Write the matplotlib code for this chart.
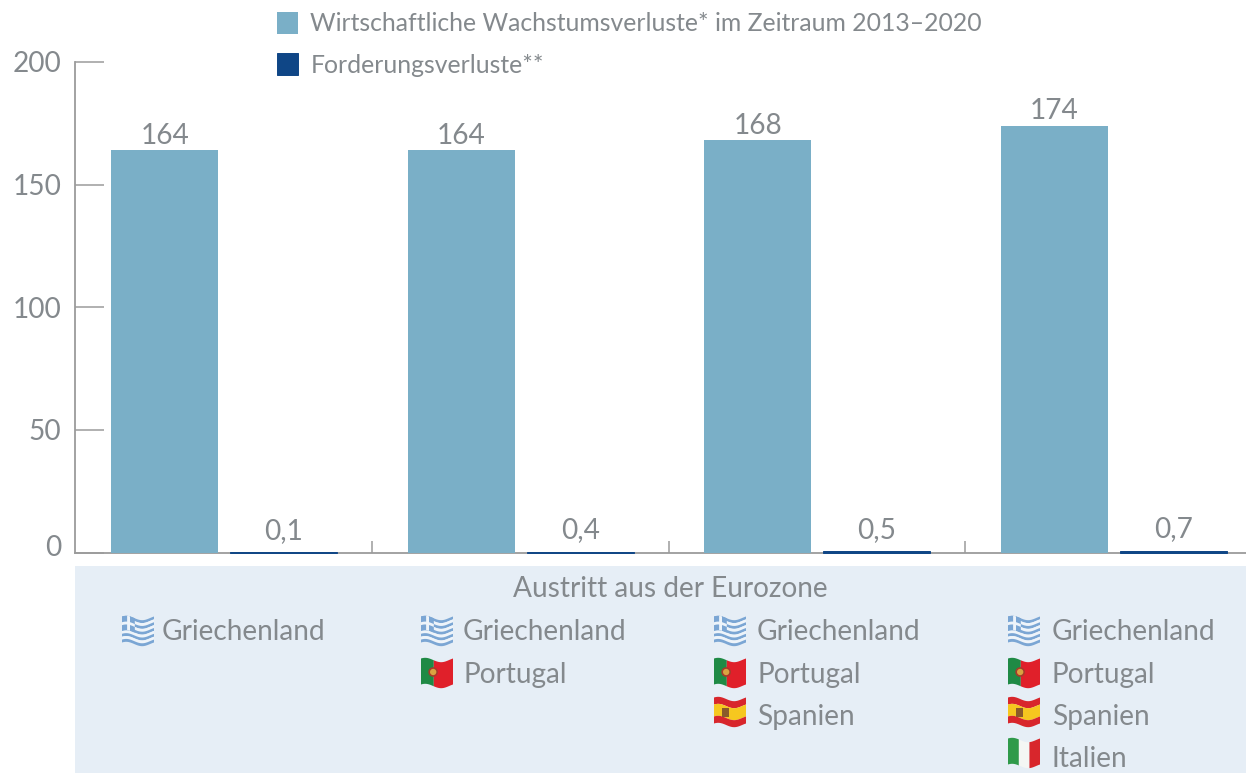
import matplotlib
matplotlib.use('Agg')
import matplotlib.pyplot as plt
from matplotlib.patches import Polygon, Rectangle, Circle
from matplotlib.ticker import FixedLocator
from matplotlib.transforms import ScaledTranslation
import numpy as np

plt.rcParams['font.family'] = ['Lato', 'DejaVu Sans']

scenarios = [['Griechenland'],
             ['Griechenland', 'Portugal'],
             ['Griechenland', 'Portugal', 'Spanien'],
             ['Griechenland', 'Portugal', 'Spanien', 'Italien']]
wachstum = [164, 164, 168, 174]
forderung = [0.1, 0.4, 0.5, 0.7]
wachstum_labels = ['164', '164', '168', '174']
forderung_labels = ['0,1', '0,4', '0,5', '0,7']
y_ticks = [0, 50, 100, 150, 200]
series_names = ['Wirtschaftliche Wachstumsverluste* im Zeitraum 2013–2020', 'Forderungsverluste**']
panel_title = 'Austritt aus der Eurozone'

W, H = 1246, 773
TXT = '#84898d'
LIGHT = '#7aafc7'
DARK = '#0f4686'
AXC = '#9b9b9b'
FS = 20.2

fig = plt.figure(figsize=(W / 100, H / 100), dpi=100, facecolor='white')

# overlay in pixel coordinates for the panel and the flags
bg = fig.add_axes([0, 0, 1, 1], zorder=0)
bg.set_xlim(0, W)
bg.set_ylim(H, 0)
bg.axis('off')
bg.add_patch(Rectangle((75, 566), W - 75, H - 566, fc='#e6eef6', ec='none'))

ax = fig.add_axes([75 / W, (H - 552.5) / H, (W - 75) / W, (552.5 - 62) / H], zorder=1)
ax.patch.set_alpha(0)
x = np.arange(len(wachstum))
offset = 59.5 / 296.5
bar_w = 107 / 296.5
b1 = ax.bar(x - offset, wachstum, bar_w, color=LIGHT, label=series_names[0], zorder=3)
b2 = ax.bar(x + offset, forderung, bar_w, color=DARK, edgecolor=DARK, linewidth=0.7, label=series_names[1],
            zorder=3, clip_on=False)
ax.set_xlim(-0.5034, 3.4466)
ax.set_ylim(0, 200)

for s in ['top', 'right']:
    ax.spines[s].set_visible(False)
for s in ['left', 'bottom']:
    ax.spines[s].set_color(AXC)
    ax.spines[s].set_linewidth(1.3)

ax.set_yticks(y_ticks)
ax.tick_params(axis='y', direction='in', length=21, width=1.1, color=AXC, labelcolor=TXT,
               labelsize=FS, pad=10)
ax.xaxis.set_major_locator(FixedLocator([0.5, 1.5, 2.5]))
ax.set_xticklabels([])
ax.tick_params(axis='x', direction='in', length=9, width=1.1, color=AXC)

# the 0 label sits a little above the baseline in the original
zero = ax.get_yticklabels()[0]
zero.set_transform(zero.get_transform() + ScaledTranslation(0, 7 / 100, fig.dpi_scale_trans))

ax.bar_label(b1, labels=wachstum_labels, padding=1, color=TXT, fontsize=FS)
ax.bar_label(b2, labels=forderung_labels, padding=6, color=TXT, fontsize=FS)

leg = ax.legend(loc='upper left', bbox_to_anchor=(272 / W, 1 - 7 / H), bbox_transform=fig.transFigure,
                frameon=False, fontsize=17.8, handlelength=0.85, handleheight=0.99, handletextpad=0.5,
                labelspacing=0.72, borderpad=0.2, borderaxespad=0)
for t in leg.get_texts():
    t.set_color(TXT)

bg.text(670, 589, panel_title, color=TXT, fontsize=FS, ha='center', va='center')


def wave(u):
    return 2.2 * np.sin(2 * np.pi * (u + 0.62))


def band(x0, y0, u0, u1, v0, v1, color, fw=32, fh=26):
    u = np.linspace(u0, u1, 20)
    top = np.column_stack([x0 + u * fw, y0 + v0 * fh + wave(u)])
    bot = np.column_stack([x0 + u * fw, y0 + v1 * fh + wave(u)])[::-1]
    bg.add_patch(Polygon(np.vstack([top, bot]), closed=True, fc=color, ec='none', zorder=3))


def flag(name, x0, y0):
    if name == 'Griechenland':
        blue = '#7ba6d4'
        for i in range(9):
            band(x0, y0, 0, 1, i / 9, (i + 1) / 9, blue if i % 2 == 0 else '#eef4fa')
        band(x0, y0, 0, 0.4, 0, 5 / 9, blue)
        band(x0, y0, 0.16, 0.25, 0, 5 / 9, '#eef4fa')
        band(x0, y0, 0, 0.4, 2 / 9, 3 / 9, '#eef4fa')
    elif name == 'Portugal':
        band(x0, y0, 0, 0.4, 0, 1, '#1f8a45')
        band(x0, y0, 0.4, 1, 0, 1, '#e0202a')
        bg.add_patch(Circle((x0 + 0.38 * 32, y0 + 12), 4, fc='#d9a441', ec='#a83a2a', lw=1.2, zorder=4))
    elif name == 'Spanien':
        band(x0, y0, 0, 1, 0, 0.27, '#d8262c')
        band(x0, y0, 0, 1, 0.27, 0.73, '#f6c71f')
        band(x0, y0, 0, 1, 0.73, 1, '#d8262c')
        bg.add_patch(Rectangle((x0 + 8, y0 + 9), 7, 9, fc='#8a5a2a', ec='none', zorder=4))
    else:
        band(x0, y0, 0, 0.34, 0, 1, '#2f9a4a')
        band(x0, y0, 0.34, 0.67, 0, 1, '#f4f6f4')
        band(x0, y0, 0.67, 1, 0, 1, '#d8262c')


text_x = [162, 463, 757, 1052]
flag_x = [122, 421, 714, 1008]
row_y = [632, 675, 717, 759]
flag_y = [618, 660, 699, 740]
for col, names in enumerate(scenarios):
    for row, name in enumerate(names):
        flag(name, flag_x[col], flag_y[row])
        bg.text(text_x[col], row_y[row], name, color=TXT, fontsize=FS, ha='left', va='center')

fig.savefig('out.png', dpi=100)
